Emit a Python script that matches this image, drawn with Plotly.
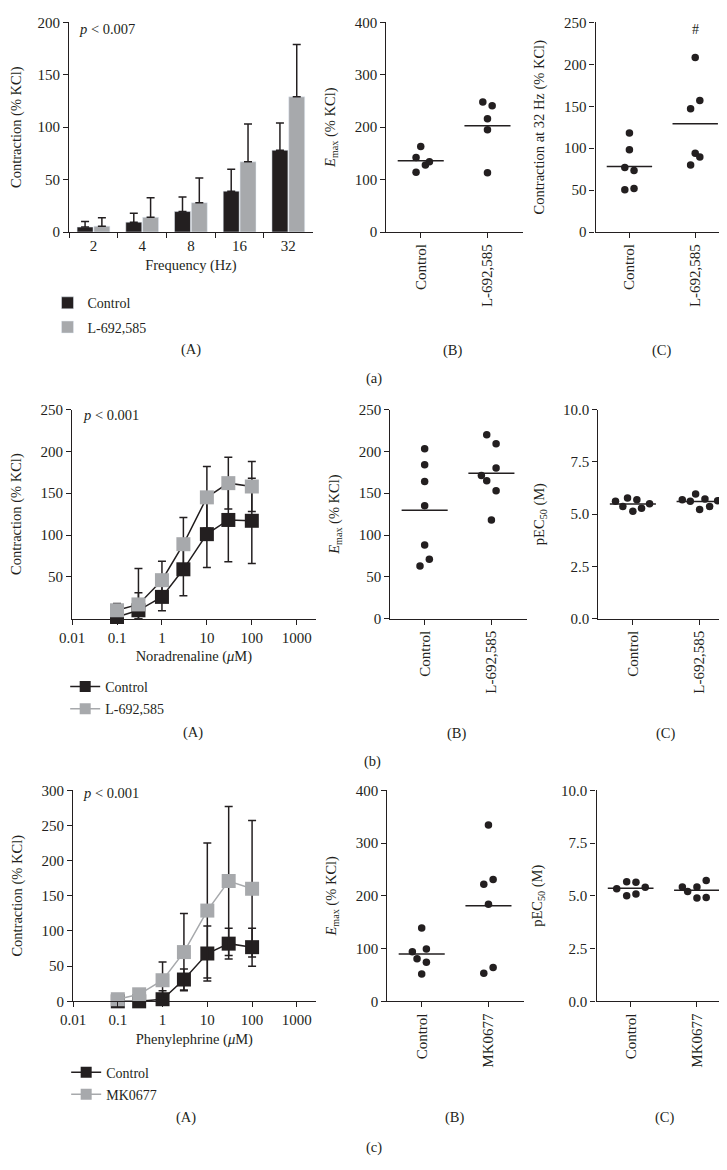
import numpy as np
import plotly.graph_objects as go

FONT = "Liberation Serif"
BLACK = "#231f20"
GRAY = "#a7a9ac"
W, H = 727, 1170

# ---- (a) electrical field stimulation ----
freq_labels = ["2", "4", "8", "16", "32"]
efs_ctrl = [4.7, 9.4, 19.5, 39, 78]
efs_ctrl_err = [5.3, 8.6, 14, 21, 26]
efs_l692 = [5.6, 14, 28, 67, 129]
efs_l692_err = [7.9, 18.6, 23.5, 36, 50]

emax_a_ctrl = [163, 142, 114, 128, 134]
emax_a_l692 = [248, 241, 216, 195, 113]
c32_ctrl = [118, 98, 77, 73.5, 50.5, 52]
c32_l692 = [208, 157, 147, 94, 89.6, 80]

# ---- (b) noradrenaline ----
conc = [0.1, 0.3, 1, 3, 10, 30, 100]
na_ctrl = [2, 10, 26, 59, 101, 118, 117]
na_ctrl_err = [3, 21, 16.5, 31.5, 40, 50, 51]
na_l692 = [10, 17, 46, 89, 145, 162, 158]
na_l692_err = [8, 43, 22.5, 32, 37, 31, 30]

emax_b_ctrl = [203, 184, 164, 135, 88, 63, 71]
emax_b_l692 = [220, 209, 180, 171, 165, 153, 118]
pec_b_ctrl = [5.61, 5.77, 5.69, 5.49, 5.36, 5.14, 5.28]
pec_b_l692 = [5.69, 5.61, 5.96, 5.72, 5.64, 5.22, 5.36]

# ---- (c) phenylephrine ----
pe_ctrl = [0, 0, 3, 31, 68, 82, 77]
pe_ctrl_err = [0, 0, 12, 15, 39, 22, 27]
pe_mk = [3, 10, 30, 70, 129, 171, 160]
pe_mk_err = [2, 4, 26, 55, 96, 106, 97]

emax_c_ctrl = [139, 94, 99, 80.6, 74, 52]
emax_c_mk = [334, 222, 231, 184, 53, 64]
pec_c_ctrl = [5.33, 5.67, 5.64, 5.4, 5.0, 5.09]
pec_c_mk = [5.42, 5.2, 5.42, 5.73, 4.9, 4.92]

# horizontal spread of the dots (category units) so they don't overlap
jit_a_emax = ([0, -0.07, -0.07, 0.07, 0.13], [-0.07, 0.07, 0, 0, 0])
jit_a_c32 = ([0, 0, -0.07, 0.07, -0.07, 0.07], [0, 0.07, -0.07, 0, 0.07, -0.07])
jit_b_emax = ([0, 0, 0, 0, 0, -0.07, 0.07], [-0.07, 0.07, 0.07, -0.15, -0.07, 0.07, 0])
jit_b_pec = ([-0.26, -0.08, 0.06, 0.25, -0.15, 0, 0.13], [-0.26, -0.14, -0.06, 0.08, 0.27, 0, 0.15])
jit_c_emax = ([0, -0.14, 0.07, -0.07, 0.07, 0], [0, -0.07, 0.07, 0, -0.07, 0.07])
jit_c_pec = ([-0.21, -0.06, 0.08, 0.22, -0.06, 0.08], [-0.22, -0.14, 0, 0.14, 0, 0.14])


def px(x):
    return x / W


def py(y):
    return 1 - y / H


fig = go.Figure()


def axname(n, kind):
    return kind if n == 1 else f"{kind}{n}"


def dot_panel(n, groups, jitters):
    for i, (vals, offs) in enumerate(zip(groups, jitters)):
        fig.add_trace(go.Scatter(
            x=i + np.array(offs), y=vals, mode="markers",
            marker=dict(size=7.5, color=BLACK), cliponaxis=False,
            xaxis=f"x{n}", yaxis=f"y{n}", showlegend=False))
        m = float(np.mean(vals))
        fig.add_trace(go.Scatter(
            x=[i - 0.345, i + 0.345], y=[m, m], mode="lines",
            line=dict(color=BLACK, width=1.5),
            xaxis=f"x{n}", yaxis=f"y{n}", showlegend=False))


def curve(n, y, err, color, linecolor):
    y = np.array(y, dtype=float)
    err = np.array(err, dtype=float)
    fig.add_trace(go.Scatter(
        x=conc, y=y, mode="lines+markers",
        line=dict(color=linecolor, width=1.5),
        marker=dict(symbol="square", size=14, color=color),
        error_y=dict(type="data", symmetric=False, array=err,
                     arrayminus=np.minimum(err, y), color=BLACK,
                     thickness=1.5, width=4),
        cliponaxis=False, xaxis=f"x{n}", yaxis=f"y{n}", showlegend=False))


def legend_entry(n, name, color, legend):
    fig.add_trace(go.Scatter(
        x=[None], y=[None], mode="lines+markers", name=name,
        line=dict(color=color, width=1.5),
        marker=dict(symbol="square", size=11, color=color),
        xaxis=f"x{n}", yaxis=f"y{n}", legend=legend, legendgroup=legend + name))


# (a)(A) bars
fig.add_trace(go.Bar(x=freq_labels, y=efs_ctrl, name="Control", marker_color=BLACK,
                     error_y=dict(type="data", symmetric=False, array=efs_ctrl_err,
                                  arrayminus=[0] * 5, color=BLACK, thickness=1.5, width=4),
                     xaxis="x", yaxis="y", legend="legend", legendgroup="a1"))
fig.add_trace(go.Bar(x=freq_labels, y=efs_l692, name="L-692,585", marker_color=GRAY,
                     error_y=dict(type="data", symmetric=False, array=efs_l692_err,
                                  arrayminus=[0] * 5, color=BLACK, thickness=1.5, width=4),
                     xaxis="x", yaxis="y", legend="legend", legendgroup="a2"))

dot_panel(2, [emax_a_ctrl, emax_a_l692], jit_a_emax)
dot_panel(3, [c32_ctrl, c32_l692], jit_a_c32)

# (b)(A) noradrenaline curves (both plot lines dark, legend line grey)
curve(4, na_ctrl, na_ctrl_err, BLACK, BLACK)
curve(4, na_l692, na_l692_err, GRAY, BLACK)
legend_entry(4, "Control", BLACK, "legend2")
legend_entry(4, "L-692,585", GRAY, "legend2")
dot_panel(5, [emax_b_ctrl, emax_b_l692], jit_b_emax)
dot_panel(6, [pec_b_ctrl, pec_b_l692], jit_b_pec)

# (c)(A) phenylephrine curves
curve(7, pe_ctrl, pe_ctrl_err, BLACK, BLACK)
curve(7, pe_mk, pe_mk_err, GRAY, GRAY)
legend_entry(7, "Control", BLACK, "legend3")
legend_entry(7, "MK0677", GRAY, "legend3")
dot_panel(8, [emax_c_ctrl, emax_c_mk], jit_c_emax)
dot_panel(9, [pec_c_ctrl, pec_c_mk], jit_c_pec)

tfont = dict(family=FONT, size=14.5, color=BLACK)
tickfont = dict(family=FONT, size=15, color=BLACK)
common = dict(showline=True, linecolor=BLACK, linewidth=1.3, ticks="outside",
              ticklen=5, tickwidth=1.3, tickcolor=BLACK, showgrid=False,
              zeroline=False, tickfont=tickfont, title_font=tfont)

domains = {
    1: ((49, 297), (6.5, 219)),
    2: ((372, 511), (6.5, 219)),
    3: ((585, 722), (6.5, 219)),
    4: ((52, 300), (399, 611)),
    5: ((376, 515), (399, 611)),
    6: ((588, 727), (399, 611)),
    7: ((53, 300), (785, 999)),
    8: ((373, 512), (785, 999)),
    9: ((586, 724), (785, 999)),
}

emax_title = "<i>E</i><sub>max</sub> (% KCl)"
pec_title = "pEC<sub>50</sub> (M)"
log_ticks = [0.01, 0.1, 1, 10, 100, 1000]
log_text = ["0.01", "0.1", "1", "10", "100", "1000"]

xcfg = {
    1: dict(type="category", tickson="boundaries", range=[-0.5, 4.5],
            title=dict(text="Frequency (Hz)", standoff=6)),
    4: dict(type="log", range=[-2, 3.42], tickvals=log_ticks, ticktext=log_text,
            title=dict(text="Noradrenaline (<i>μ</i>M)", standoff=6)),
    7: dict(type="log", range=[-2, 3.42], tickvals=log_ticks, ticktext=log_text,
            title=dict(text="Phenylephrine (<i>μ</i>M)", standoff=6)),
}
for n, labels in [(2, ["Control", "L-692,585"]), (3, ["Control", "L-692,585"]),
                  (5, ["Control", "L-692,585"]), (6, ["Control", "L-692,585"]),
                  (8, ["Control", "MK0677"]), (9, ["Control", "MK0677"])]:
    xcfg[n] = dict(range=[-0.515, 1.53], tickvals=[0, 1], ticktext=labels, tickangle=-90)

pec_ticks = [0, 2.5, 5, 7.5, 10]
pec_text = ["0.0", "2.5", "5.0", "7.5", "10.0"]
ycfg = {
    1: dict(range=[0, 200], dtick=50, title=dict(text="Contraction (% KCl)")),
    2: dict(range=[0, 400], dtick=100, title=dict(text=emax_title)),
    3: dict(range=[0, 250], dtick=50, title=dict(text="Contraction at 32 Hz (% KCl)")),
    4: dict(range=[0, 250], tickvals=[50, 100, 150, 200, 250],
            title=dict(text="Contraction (% KCl)")),
    5: dict(range=[0, 250], dtick=50, title=dict(text=emax_title)),
    6: dict(range=[0, 10], tickvals=pec_ticks, ticktext=pec_text, title=dict(text=pec_title)),
    7: dict(range=[0, 300], dtick=50, title=dict(text="Contraction (% KCl)")),
    8: dict(range=[0, 400], dtick=100, title=dict(text=emax_title)),
    9: dict(range=[0, 10], tickvals=pec_ticks, ticktext=pec_text, title=dict(text=pec_title)),
}

layout_axes = {}
for n, ((x0, x1), (t, b)) in domains.items():
    layout_axes[axname(n, "xaxis")] = dict(common, domain=[px(x0), px(x1)],
                                           anchor=f"y{n}" if n > 1 else "y", **xcfg[n])
    layout_axes[axname(n, "yaxis")] = dict(common, domain=[py(b), py(t)],
                                           anchor=f"x{n}" if n > 1 else "x", **ycfg[n])

legend_style = dict(font=dict(family=FONT, size=14, color=BLACK), bgcolor="rgba(0,0,0,0)",
                    xanchor="left", yanchor="top", traceorder="grouped", itemwidth=30)

annotations = []


def label(text, x, y, size=14.5):
    annotations.append(dict(text=text, x=px(x), y=py(y), xref="paper", yref="paper",
                            showarrow=False, xanchor="center", yanchor="middle",
                            font=dict(family=FONT, size=size, color=BLACK)))


def ptext(text, x, y):
    annotations.append(dict(text=text, x=px(x), y=py(y), xref="paper", yref="paper",
                            showarrow=False, xanchor="left", yanchor="middle",
                            font=dict(family=FONT, size=14.5, color=BLACK)))


ptext("<i>p</i> &lt; 0.007", 57, 13)
ptext("<i>p</i> &lt; 0.001", 61, 405)
ptext("<i>p</i> &lt; 0.001", 61, 788)
annotations.append(dict(text="#", x=1, y=241, xref="x3", yref="y3", showarrow=False,
                        font=dict(family=FONT, size=14, color=BLACK)))

for txt, x, y in [("(A)", 173, 338), ("(B)", 440, 339), ("(C)", 653, 339), ("(a)", 359, 368),
                  ("(A)", 175, 726), ("(B)", 444, 727), ("(C)", 657, 727), ("(b)", 358, 756),
                  ("(A)", 168, 1117), ("(B)", 442, 1117), ("(C)", 656, 1117), ("(c)", 359, 1147)]:
    label(txt, x, y)

fig.update_layout(
    width=W, height=H, margin=dict(l=0, r=0, t=0, b=0),
    paper_bgcolor="white", plot_bgcolor="white",
    font=dict(family=FONT, color=BLACK),
    barmode="group", bargap=0.31, bargroupgap=0.05,
    showlegend=True,
    legend=dict(legend_style, x=px(27), y=py(275), tracegroupgap=3),
    legend2=dict(legend_style, x=px(45), y=py(664), tracegroupgap=1),
    legend3=dict(legend_style, x=px(46), y=py(1055), tracegroupgap=1),
    annotations=annotations,
    **layout_axes,
)

fig.write_html("out.html")
